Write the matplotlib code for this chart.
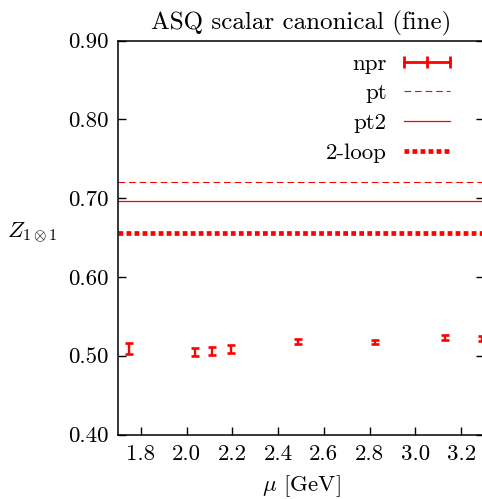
import matplotlib
matplotlib.use("Agg")
import matplotlib.pyplot as plt
from matplotlib.lines import Line2D

plt.rcParams["font.family"] = "cmr10"
plt.rcParams["mathtext.fontset"] = "cm"
plt.rcParams["axes.formatter.use_mathtext"] = True

# data
mu = [1.750, 2.037, 2.112, 2.194, 2.488, 2.822, 3.131, 3.290]
z_npr = [0.5094, 0.5044, 0.5060, 0.5086, 0.5178, 0.5174, 0.5234, 0.5221]
z_err = [0.0072, 0.0053, 0.0050, 0.0045, 0.0034, 0.0030, 0.0030, 0.0030]
z_pt = 0.720
z_pt2 = 0.697
z_2loop = 0.656

xticks = [1.8, 2.0, 2.2, 2.4, 2.6, 2.8, 3.0, 3.2]
yticks = [0.40, 0.50, 0.60, 0.70, 0.80, 0.90]

RED = "#ff0000"
FS = 16.5

W, H = 482, 499
fig = plt.figure(figsize=(W / 100, H / 100), dpi=100)
ax = fig.add_axes([118 / W, (H - 434.5) / H, 366 / W, 393.8 / H])

ax.errorbar(mu, z_npr, yerr=z_err, fmt="none", ecolor=RED, elinewidth=1.7,
            capsize=3, capthick=1.9, clip_on=False)
ax.axhline(z_pt, color=RED, lw=0.8, ls=(0, (6, 3.5)))
ax.axhline(z_pt2, color=RED, lw=0.9)
ax.axhline(z_2loop, color=RED, lw=3.4, ls=(0, (1.0, 0.7)), dash_capstyle="butt")

ax.set_xlim(1.7, 3.3)
ax.set_ylim(0.40, 0.90)
ax.set_xticks(xticks)
ax.set_xticklabels([f"{v:.1f}" for v in xticks])
ax.set_yticks(yticks)
ax.set_yticklabels([f"{v:.2f}" for v in yticks])
ax.tick_params(direction="in", length=6, width=1.0, labelsize=FS,
               right=True, top=False, pad=7)
for s in ax.spines.values():
    s.set_linewidth(1.1)

ax.set_xlabel(r"$\mu$ [GeV]", fontsize=FS, labelpad=7)
ax.set_ylabel(r"$Z_{1\otimes 1}$", fontsize=FS, rotation=0)
ax.yaxis.set_label_coords(-0.235, 0.48)
ax.set_title("ASQ scalar canonical (fine)", fontsize=18, pad=8)

handles = [
    Line2D([0], [0], color=RED, lw=2, marker="|", markersize=9, mew=2),
    Line2D([0], [0], color=RED, lw=0.8, ls=(0, (6, 3.5))),
    Line2D([0], [0], color=RED, lw=0.9),
    Line2D([0], [0], color=RED, lw=3.4, ls=(0, (1.0, 0.7)), dash_capstyle="butt"),
]
labels = ["npr", "pt", "pt2", "2-loop"]
ax.legend(handles, labels, loc="upper right", bbox_to_anchor=(0.925, 0.967),
          frameon=False, fontsize=FS, markerfirst=False, numpoints=3,
          handlelength=2.6, handletextpad=0.44, labelspacing=0.42,
          borderpad=0, borderaxespad=0)

fig.savefig("out.png", dpi=100)
